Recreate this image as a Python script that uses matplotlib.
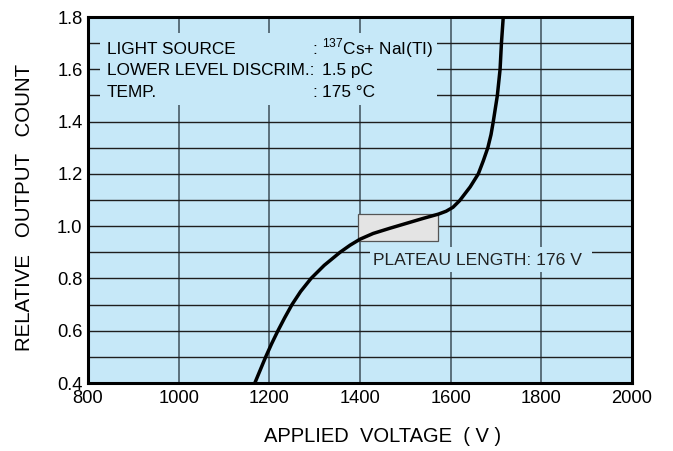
import matplotlib
matplotlib.use("Agg")
import matplotlib.pyplot as plt
from matplotlib.patches import Rectangle

plt.rcParams['font.family'] = ['Liberation Sans', 'DejaVu Sans']
plt.rcParams['mathtext.fontset'] = 'custom'
plt.rcParams['mathtext.rm'] = 'Liberation Sans'

# Data
voltage = [1168, 1192, 1205, 1219, 1234, 1250, 1269, 1292, 1321, 1356, 1378,
           1400, 1429, 1466, 1503, 1540, 1573, 1590, 1605, 1620, 1643, 1661,
           1672, 1682, 1689, 1694, 1703, 1709, 1712, 1716]
count = [0.40, 0.50, 0.55, 0.60, 0.65, 0.70, 0.75, 0.80, 0.85, 0.90, 0.927,
         0.950, 0.972, 0.992, 1.011, 1.030, 1.046, 1.057, 1.072, 1.098, 1.15,
         1.20, 1.25, 1.30, 1.35, 1.40, 1.50, 1.60, 1.70, 1.80]

x_ticks = [800, 1000, 1200, 1400, 1600, 1800, 2000]
y_ticks = [0.4, 0.6, 0.8, 1.0, 1.2, 1.4, 1.6, 1.8]
y_grid = [0.5, 0.6, 0.7, 0.8, 0.9, 1.0, 1.1, 1.2, 1.3, 1.4, 1.5, 1.6, 1.7]

plateau_start = 1395
plateau_length = 176
plateau_low, plateau_high = 0.945, 1.045

legend_labels = ["LIGHT SOURCE", "LOWER LEVEL DISCRIM.:", "TEMP."]
legend_colons = [":", "", ":"]
legend_values = [r"$^{137}$Cs+ NaI(TI)", "1.5 pC", "175 \u00b0C"]

bg = '#c6e8f8'
W, H = 673, 451
fig = plt.figure(figsize=(W / 100, H / 100), dpi=100)
ax = fig.add_axes([88 / W, 1 - 383 / H, 544 / W, 366 / H])
ax.set_facecolor(bg)
ax.set_xlim(800, 2000)
ax.set_ylim(0.4, 1.8)

for xv in x_ticks[1:-1]:
    ax.axvline(xv, color='#3d4f5a', lw=1.1, zorder=0.5)
for yv in y_grid:
    ax.axhline(yv, color='#1e1e1e', lw=1.0, zorder=0.5)

# text background boxes (hide grid behind text)
ax.add_patch(Rectangle((826.5, 1.463), 1569.9 - 826.5, 1.739 - 1.463,
                       facecolor=bg, edgecolor='none', zorder=1))
ax.add_patch(Rectangle((1422, 0.824), 1912 - 1422, 0.920 - 0.824,
                       facecolor=bg, edgecolor='none', zorder=1))

# plateau rectangle
ax.add_patch(Rectangle((plateau_start, plateau_low), plateau_length,
                       plateau_high - plateau_low, facecolor='#e4e4e4',
                       edgecolor='#555555', lw=0.9, zorder=2))

ax.plot(voltage, count, color='black', lw=2.5, zorder=3,
        solid_joinstyle='round', solid_capstyle='butt')

fs_leg = 12.4
ys = [1.658, 1.578, 1.494]
for lab, col, val, yy in zip(legend_labels, legend_colons, legend_values, ys):
    ax.text(842, yy, lab, fontsize=fs_leg, va='baseline', ha='left', zorder=4)
    if col:
        ax.text(1294, yy, col, fontsize=fs_leg, va='baseline', ha='left',
                zorder=4)
    ax.text(1316, yy, val, fontsize=fs_leg, va='baseline', ha='left',
            zorder=4)

ax.text(1429, 0.851, "PLATEAU LENGTH: %d V" % plateau_length,
        fontsize=12.6, va='baseline', ha='left', color='#222222', zorder=4)

ax.set_xticks(x_ticks)
ax.set_xticklabels([str(v) for v in x_ticks])
ax.set_yticks(y_ticks)
ax.set_yticklabels(["%.1f" % v for v in y_ticks])
ax.tick_params(axis='both', length=0, labelsize=13.2)
ax.tick_params(axis='x', pad=5)
ax.tick_params(axis='y', pad=4)

for s in ax.spines.values():
    s.set_linewidth(2.2)
    s.set_color('black')
    s.set_zorder(5)

fig.text(383 / W, 1 - 436 / H, "APPLIED  VOLTAGE  ( V )", fontsize=14.5,
         ha='center', va='center')
fig.text(25 / W, 1 - 207 / H, "RELATIVE   OUTPUT   COUNT", fontsize=14.7,
         ha='center', va='center', rotation=90)

fig.savefig("out.png", dpi=100)
